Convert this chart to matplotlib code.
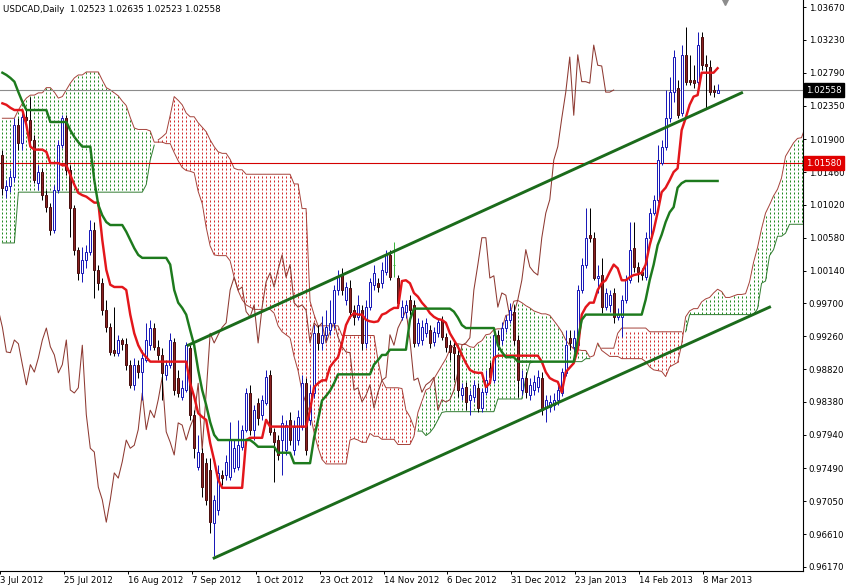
import matplotlib.pyplot as plt
import matplotlib.transforms as mtransforms
import numpy as np

# USDCAD daily candles, 3 Jul 2012 - 13 Mar 2013, prices in pips (1e-4)
opens = [
    10169, 10122, 10127, 10139, 10209, 10185, 10220, 10216, 10189, 10131,
    10146, 10115, 10099, 10068, 10122, 10182, 10218, 10149, 10098, 10042,
    10011, 10028, 10039, 10068, 10015, 9997, 9961, 9938, 9908, 9904,
    9921, 9916, 9888, 9861, 9888, 9878, 9894, 9914, 9937, 9912,
    9901, 9874, 9888, 9918, 9870, 9845, 9854, 9910, 9821, 9751,
    9770, 9756, 9747, 9676, 9693, 9740, 9740, 9738, 9750, 9751,
    9778, 9801, 9850, 9801, 9837, 9821, 9837, 9874, 9798, 9787,
    9787, 9774, 9814, 9774, 9787, 9805, 9863, 9814, 9850, 9930,
    9917, 9928, 9934, 9944, 9988, 10008, 9975, 9991, 9961, 9952,
    9961, 9917, 9965, 9995, 9997, 9997, 10012, 10035, 10022, 10004,
    9952, 9959, 9975, 9968, 9917, 9921, 9930, 9934, 9918, 9930,
    9948, 9925, 9914, 9912, 9901, 9847, 9858, 9841, 9845, 9857,
    9830, 9851, 9884, 9867, 9928, 9921, 9937, 9948, 9959, 9921,
    9854, 9870, 9847, 9854, 9858, 9870, 9830, 9831, 9834, 9841,
    9850, 9877, 9924, 9912, 9914, 9988, 10022, 10062, 10058, 10004,
    10008, 9965, 9968, 9984, 9952, 9952, 9975, 10001, 10044, 10019,
    10012, 10005, 10058, 10091, 10109, 10158, 10180, 10218, 10253, 10259,
    10225, 10303, 10269, 10269, 10267, 10327, 10291, 10287, 10256, 10252.3]
highs = [
    10176, 10135, 10149, 10218, 10218, 10229, 10232, 10247, 10196, 10155,
    10151, 10122, 10105, 10129, 10189, 10222, 10222, 10155, 10102, 10046,
    10046, 10048, 10082, 10079, 10022, 10004, 9975, 9944, 9965, 9928,
    9924, 9924, 9894, 9897, 9894, 9908, 9944, 9948, 9944, 9921,
    9910, 9894, 9930, 9924, 9881, 9867, 9918, 9914, 9827, 9794,
    9776, 9763, 9763, 9713, 9754, 9747, 9767, 9811, 9787, 9814,
    9807, 9857, 9861, 9834, 9843, 9847, 9881, 9881, 9803, 9794,
    9821, 9814, 9825, 9814, 9827, 9874, 9870, 9861, 9941, 9941,
    9953, 9961, 9975, 9995, 10015, 10017, 9999, 10001, 9968, 9981,
    9968, 9975, 10004, 10022, 10004, 10026, 10042, 10042, 10052, 10008,
    9975, 9975, 9981, 9975, 9951, 9948, 9951, 9941, 9938, 9951,
    9953, 9930, 9921, 9918, 9908, 9863, 9865, 9854, 9867, 9863,
    9857, 9881, 9892, 9934, 9934, 9945, 9955, 9971, 9968, 9928,
    9881, 9878, 9870, 9874, 9881, 9878, 9847, 9847, 9850, 9861,
    9884, 9934, 9934, 9934, 9995, 10031, 10098, 10098, 10066, 10022,
    10031, 9991, 9988, 9991, 9964, 9981, 10008, 10079, 10079, 10026,
    10017, 10066, 10098, 10115, 10182, 10189, 10256, 10273, 10309, 10269,
    10316, 10340, 10303, 10289, 10334, 10334, 10303, 10296, 10263, 10263.5]
lows = [
    10115, 10111, 10119, 10133, 10176, 10176, 10209, 10182, 10131, 10122,
    10109, 10092, 10062, 10064, 10118, 10178, 10142, 10059, 10035, 10001,
    9999, 10017, 10035, 9977, 9988, 9955, 9932, 9901, 9900, 9900,
    9908, 9881, 9857, 9854, 9870, 9841, 9892, 9908, 9908, 9894,
    9841, 9867, 9884, 9847, 9845, 9841, 9851, 9814, 9763, 9747,
    9711, 9700, 9663, 9632, 9687, 9727, 9734, 9734, 9744, 9747,
    9774, 9798, 9794, 9787, 9807, 9814, 9834, 9794, 9731, 9760,
    9740, 9767, 9780, 9767, 9780, 9801, 9767, 9807, 9843, 9908,
    9908, 9921, 9928, 9937, 9981, 9981, 9968, 9951, 9941, 9948,
    9908, 9910, 9961, 9988, 9985, 9991, 10008, 10001, 10005, 9964,
    9948, 9951, 9955, 9912, 9913, 9914, 9925, 9910, 9913, 9925,
    9921, 9905, 9894, 9867, 9845, 9841, 9827, 9821, 9838, 9825,
    9825, 9847, 9865, 9863, 9908, 9914, 9932, 9944, 9914, 9845,
    9847, 9843, 9841, 9847, 9851, 9821, 9811, 9825, 9827, 9834,
    9846, 9873, 9908, 9905, 9910, 9984, 10017, 10052, 10001, 9984,
    9957, 9961, 9959, 9944, 9948, 9925, 9971, 9997, 10012, 9999,
    10001, 10001, 10055, 10088, 10105, 10155, 10176, 10213, 10240, 10218,
    10221, 10263, 10263, 10259, 10263, 10283, 10232, 10249, 10246, 10252.3]
closes = [
    10125, 10127, 10139, 10209, 10185, 10220, 10216, 10189, 10135, 10146,
    10115, 10099, 10068, 10122, 10182, 10218, 10149, 10098, 10042, 10011,
    10028, 10039, 10068, 10015, 9997, 9961, 9938, 9905, 9904, 9921,
    9916, 9888, 9861, 9888, 9878, 9897, 9921, 9937, 9912, 9901,
    9877, 9888, 9921, 9854, 9850, 9857, 9914, 9821, 9776, 9771,
    9724, 9707, 9677, 9707, 9743, 9736, 9758, 9787, 9776, 9780,
    9801, 9850, 9801, 9827, 9817, 9841, 9871, 9798, 9784, 9767,
    9810, 9807, 9787, 9805, 9818, 9863, 9774, 9850, 9930, 9917,
    9928, 9938, 9944, 9988, 10005, 9988, 9992, 9959, 9952, 9968,
    9917, 9965, 9999, 10011, 9992, 10015, 10035, 10005, 10022, 9971,
    9965, 9968, 9961, 9917, 9944, 9938, 9944, 9917, 9932, 9945,
    9925, 9912, 9905, 9904, 9854, 9857, 9838, 9847, 9861, 9830,
    9851, 9867, 9871, 9928, 9914, 9937, 9948, 9961, 9921, 9867,
    9870, 9851, 9861, 9865, 9871, 9827, 9841, 9838, 9841, 9854,
    9878, 9914, 9917, 9924, 9988, 10022, 10058, 10058, 10004, 10007,
    9965, 9984, 9981, 9952, 9956, 9975, 10001, 10042, 10019, 10012,
    10008, 10058, 10091, 10109, 10162, 10180, 10218, 10253, 10300, 10222,
    10303, 10267, 10267, 10265, 10316, 10289, 10288, 10253, 10253, 10255.8]

# Ichimoku lines (pips)
tenkan = [
    10238, 10236, 10232, 10229, 10229, 10229, 10209, 10180, 10176, 10176,
    10176, 10173, 10158, 10158, 10158, 10155, 10155, 10142, 10129, 10118,
    10115, 10113, 10109, 10105, 10105, 10055, 10015, 9995, 9992, 9992,
    9992, 9988, 9955, 9930, 9914, 9904, 9898, 9892, 9892, 9892,
    9892, 9892, 9892, 9892, 9892, 9892, 9892, 9863, 9845, 9823,
    9818, 9814, 9783, 9760, 9734, 9723, 9723, 9723, 9723, 9723,
    9723, 9787, 9790, 9790, 9790, 9790, 9814, 9805, 9805, 9805,
    9805, 9805, 9805, 9805, 9805, 9805, 9805, 9827, 9858, 9863,
    9867, 9867, 9885, 9892, 9898, 9917, 9941, 9952, 9957, 9955,
    9955, 9948, 9946, 9945, 9946, 9955, 9957, 9961, 9964, 9964,
    10000, 10001, 9997, 9984, 9979, 9971, 9965, 9957, 9952, 9949,
    9948, 9944, 9930, 9921, 9912, 9901, 9890, 9881, 9878, 9877,
    9877, 9858, 9863, 9897, 9900, 9900, 9900, 9900, 9900, 9900,
    9900, 9900, 9900, 9900, 9900, 9892, 9878, 9870, 9867, 9865,
    9851, 9878, 9884, 9890, 9908, 9955, 9965, 9971, 9971, 9988,
    9997, 10001, 10012, 10022, 10017, 10001, 10001, 10005, 10008, 10009,
    10011, 10022, 10048, 10068, 10092, 10119, 10125, 10135, 10146, 10151,
    10202, 10218, 10236, 10247, 10249, 10279, 10279, 10279, 10279, 10285]
kijun = [
    10279, 10276, 10272, 10267, 10253, 10240, 10229, 10229, 10229, 10229,
    10229, 10229, 10213, 10213, 10213, 10213, 10213, 10202, 10193, 10186,
    10180, 10180, 10180, 10135, 10102, 10088, 10079, 10075, 10075, 10075,
    10075, 10066, 10055, 10044, 10035, 10031, 10031, 10031, 10031, 10031,
    10031, 10031, 10022, 9988, 9971, 9964, 9955, 9934, 9914, 9881,
    9854, 9834, 9811, 9794, 9787, 9787, 9787, 9787, 9787, 9787,
    9787, 9787, 9787, 9783, 9778, 9778, 9778, 9778, 9778, 9770,
    9770, 9770, 9770, 9756, 9756, 9756, 9756, 9756, 9790, 9814,
    9840, 9846, 9853, 9863, 9875, 9875, 9875, 9875, 9875, 9875,
    9875, 9875, 9875, 9888, 9894, 9901, 9901, 9908, 9908, 9908,
    9908, 9908, 9948, 9963, 9963, 9963, 9963, 9963, 9963, 9963,
    9963, 9963, 9963, 9959, 9951, 9941, 9937, 9937, 9937, 9937,
    9937, 9937, 9937, 9937, 9914, 9905, 9898, 9898, 9898, 9892,
    9892, 9892, 9892, 9892, 9892, 9892, 9892, 9892, 9892, 9892,
    9892, 9892, 9892, 9892, 9921, 9948, 9955, 9955, 9955, 9955,
    9955, 9955, 9955, 9955, 9955, 9955, 9955, 9955, 9955, 9955,
    9955, 9975, 10001, 10022, 10048, 10062, 10079, 10092, 10099, 10125,
    10131, 10134, 10134, 10134, 10134, 10134, 10134, 10134, 10134, 10134]
# senkou spans, already displaced 26 bars ahead (bar 0 .. 205)
span_a = [
    10218, 10218, 10218, 10218, 10229, 10238, 10245, 10249, 10249, 10252,
    10252, 10259, 10259, 10253, 10245, 10247, 10256, 10265, 10272, 10276,
    10276, 10280, 10280, 10280, 10280, 10269, 10259, 10256, 10252, 10248,
    10241, 10235, 10219, 10205, 10203, 10203, 10203, 10201, 10186, 10186,
    10186, 10184, 10184, 10172, 10161, 10152, 10148, 10147, 10145, 10120,
    10104, 10072, 10047, 10035, 10034, 10034, 10034, 10027, 10005, 9987,
    9975, 9968, 9965, 9962, 9962, 9962, 9962, 9962, 9957, 9940,
    9932, 9928, 9924, 9899, 9880, 9852, 9836, 9824, 9797, 9777,
    9761, 9755, 9755, 9755, 9755, 9755, 9755, 9787, 9789, 9787,
    9784, 9784, 9796, 9792, 9792, 9788, 9788, 9788, 9788, 9781,
    9781, 9781, 9781, 9792, 9824, 9839, 9854, 9857, 9869, 9878,
    9887, 9896, 9908, 9914, 9916, 9915, 9915, 9912, 9911, 9917,
    9920, 9928, 9929, 9935, 9936, 9936, 9954, 9955, 9973, 9974,
    9971, 9967, 9964, 9960, 9958, 9956, 9956, 9954, 9947, 9940,
    9932, 9921, 9914, 9909, 9908, 9907, 9907, 9898, 9900, 9917,
    9907, 9903, 9899, 9899, 9899, 9896, 9896, 9896, 9896, 9896,
    9896, 9892, 9885, 9881, 9880, 9879, 9872, 9885, 9888, 9891,
    9915, 9952, 9960, 9963, 9963, 9972, 9976, 9978, 9984, 9989,
    9986, 9978, 9978, 9980, 9982, 9982, 9983, 9999, 10025, 10045,
    10070, 10091, 10102, 10114, 10123, 10138, 10167, 10176, 10185, 10191,
    10192, 10207, 10207, 10207, 10207, 10210]
span_b = [
    10051, 10051, 10051, 10051, 10119, 10119, 10119, 10119, 10119, 10119,
    10119, 10119, 10119, 10119, 10119, 10119, 10119, 10119, 10119, 10119,
    10119, 10119, 10119, 10119, 10119, 10119, 10119, 10119, 10119, 10119,
    10119, 10119, 10119, 10119, 10119, 10119, 10129, 10162, 10182, 10189,
    10193, 10198, 10222, 10247, 10242, 10236, 10225, 10220, 10220, 10212,
    10206, 10200, 10189, 10180, 10173, 10171, 10171, 10163, 10151, 10149,
    10149, 10143, 10143, 10143, 10143, 10143, 10143, 10143, 10143, 10143,
    10143, 10143, 10143, 10130, 10130, 10097, 10097, 9973, 9955, 9940,
    9940, 9940, 9940, 9940, 9940, 9927, 9927, 9927, 9927, 9927,
    9927, 9927, 9927, 9927, 9894, 9867, 9857, 9857, 9857, 9857,
    9856, 9827, 9818, 9804, 9799, 9799, 9793, 9797, 9804, 9814,
    9824, 9825, 9825, 9825, 9825, 9825, 9825, 9825, 9825, 9825,
    9825, 9825, 9825, 9825, 9842, 9842, 9842, 9842, 9842, 9842,
    9842, 9870, 9890, 9892, 9892, 9892, 9892, 9892, 9892, 9892,
    9892, 9892, 9892, 9892, 9892, 9892, 9896, 9896, 9910, 9910,
    9910, 9910, 9910, 9910, 9930, 9937, 9937, 9937, 9937, 9937,
    9937, 9937, 9932, 9932, 9932, 9932, 9932, 9932, 9932, 9932,
    9932, 9932, 9955, 9955, 9955, 9955, 9955, 9955, 9955, 9955,
    9955, 9955, 9955, 9955, 9955, 9955, 9955, 9955, 9955, 9963,
    9997, 10000, 10034, 10042, 10060, 10060, 10064, 10076, 10076, 10076,
    10076, 10076, 10076, 10076, 10076, 10076]
chikou_shift = 26

# hand drawn channel lines (bar index, pips)
channel_top_bars = [46.5, 185]
channel_top_pips = [9914, 10252]
channel_low_bars = [53, 192]
channel_low_pips = [9629, 9965]

bid_price = 1.02558
level_price = 1.01580

date_bars = [0, 16, 32, 48, 64, 80, 96, 112, 128, 144, 160, 176]
date_labels = ['3 Jul 2012', '25 Jul 2012', '16 Aug 2012', '7 Sep 2012',
               '1 Oct 2012', '23 Oct 2012', '14 Nov 2012', '6 Dec 2012',
               '31 Dec 2012', '23 Jan 2013', '14 Feb 2013', '8 Mar 2013']
price_labels = ['1.03670', '1.03230', '1.02790', '1.02350', '1.01900',
                '1.01460', '1.01020', '1.00580', '1.00140', '0.99700',
                '0.99260', '0.98820', '0.98380', '0.97940', '0.97490',
                '0.97050', '0.96610', '0.96170']

FS = 6.2
plt.rcParams['font.family'] = ['DejaVu Sans']

W, H = 846, 587
AX_W, AX_H, AX_B = 803, 571, 16
YLO, YHI = 0.961159, 1.037639

fig = plt.figure(figsize=(W / 100, H / 100), dpi=100)
ax = fig.add_axes([0, AX_B / H, AX_W / W, AX_H / H])

o = np.array(opens) / 1e4
h = np.array(highs) / 1e4
l = np.array(lows) / 1e4
c = np.array(closes) / 1e4
x = np.arange(len(c))

# kumo: short dashes on a fixed 4 px grid, like the MT4 dotted histogram
a = np.array(span_a) / 1e4
b = np.array(span_b) / 1e4
up = a >= b
px = (YHI - YLO) / AX_H
grid = YLO + (np.arange(AX_H // 4 + 1) * 4 + 2) * px
dot_x = {True: [], False: []}
dot_y = {True: [], False: []}
for i in range(len(a)):
    lo, hi = min(a[i], b[i]), max(a[i], b[i])
    ys = grid[(grid >= lo + px) & (grid <= hi - px)]
    dot_x[bool(up[i])].extend([i] * len(ys))
    dot_y[bool(up[i])].extend(ys)
ax.plot(dot_x[True], dot_y[True], ls='none', marker='|', ms=1.44, mew=0.72,
        color='#238c23', antialiased=False, zorder=1)
ax.plot(dot_x[False], dot_y[False], ls='none', marker='|', ms=1.44, mew=0.72,
        color='#d22c2c', antialiased=False, zorder=1)
xs = np.arange(len(a))
ax.plot(xs, a, color='#a5423a', lw=0.7, zorder=2)
ax.plot(xs, np.where(up, b, np.nan), color='#2f7a2f', lw=0.7, zorder=2)
ax.plot(xs, np.where(~up, b, np.nan), color='#a5423a', lw=0.7, zorder=2)

# reference levels
ax.axhline(bid_price, color='#8c8c8c', lw=0.8, zorder=2)
ax.axhline(level_price, color='#d40000', lw=0.8, zorder=2)

# chikou
ax.plot(x - chikou_shift, c, color='#8e3a32', lw=0.75, zorder=3)

# candles
bull = c > o
bear = c < o
doji = c == o
ax.vlines(x[bull], l[bull], h[bull], color='#1a1ab8', lw=0.72, zorder=4)
ax.vlines(x[bear], l[bear], h[bear], color='black', lw=0.72, zorder=4)
ax.vlines(x[doji], l[doji], h[doji], color='#3cb43c', lw=0.72, zorder=4)
ax.hlines(o[doji], x[doji] - 0.35, x[doji] + 0.35, color='#3cb43c', lw=0.72, zorder=4)
ax.bar(x[bull], (c - o)[bull], bottom=o[bull], width=0.5, facecolor='white',
       edgecolor='#1a1ab8', lw=0.72, zorder=5)
ax.bar(x[bear], (o - c)[bear], bottom=c[bear], width=0.5, facecolor='#8a2222',
       edgecolor='#4a1010', lw=0.72, zorder=5)

# tenkan / kijun
ax.plot(x, np.array(tenkan) / 1e4, color='#e3161b', lw=1.75, zorder=6)
ax.plot(x, np.array(kijun) / 1e4, color='#1d7a1d', lw=1.75, zorder=6)

# channel
ax.plot(channel_top_bars, np.array(channel_top_pips) / 1e4, color='#1b6b1b', lw=2.1, zorder=7)
ax.plot(channel_low_bars, np.array(channel_low_pips) / 1e4, color='#1b6b1b', lw=2.1, zorder=7)

# 4 px per bar, bar centres on pixel centres
ax.set_xlim(-0.375, AX_W / 4 - 0.375)
ax.set_ylim(YLO, YHI)

for side in ('left', 'top'):
    ax.spines[side].set_visible(False)
for side in ('right', 'bottom'):
    ax.spines[side].set_linewidth(0.8)
    ax.spines[side].set_color('black')

ax.yaxis.tick_right()
ax.set_yticks([float(p) for p in price_labels])
ax.set_yticklabels(price_labels)
ax.tick_params(axis='y', direction='out', length=2.5, width=0.7, pad=1.5, labelsize=FS)

ax.set_xticks([d - 0.6 for d in date_bars])
ax.set_xticklabels(date_labels, ha='left')
ax.tick_params(axis='x', direction='out', length=2.5, width=0.7, pad=1.0, labelsize=FS)

# price tags on the scale
tr = mtransforms.blended_transform_factory(ax.transAxes, ax.transData)
ax.text(1.004, bid_price, '%.5f' % bid_price, transform=tr, ha='left', va='center',
        color='white', fontsize=FS, clip_on=False,
        bbox=dict(boxstyle='square,pad=0.28', fc='black', ec='black'))
ax.text(1.004, level_price, '%.5f' % level_price, transform=tr, ha='left', va='center',
        color='white', fontsize=FS, clip_on=False,
        bbox=dict(boxstyle='square,pad=0.28', fc='#e00000', ec='#e00000'))

# chart shift marker
trx = mtransforms.blended_transform_factory(ax.transData, ax.transAxes)
ax.plot([len(c) + 0.8], [1.0], marker='v', ms=7, color='#8c8c8c', transform=trx,
        clip_on=False, zorder=8)

fig.text(3 / W, 1 - 9 / H, 'USDCAD,Daily  %.5f %.5f %.5f %.5f' % (o[-1], h[-1], l[-1], c[-1]),
         ha='left', va='center', fontsize=FS)

fig.savefig('out.png', dpi=100)
